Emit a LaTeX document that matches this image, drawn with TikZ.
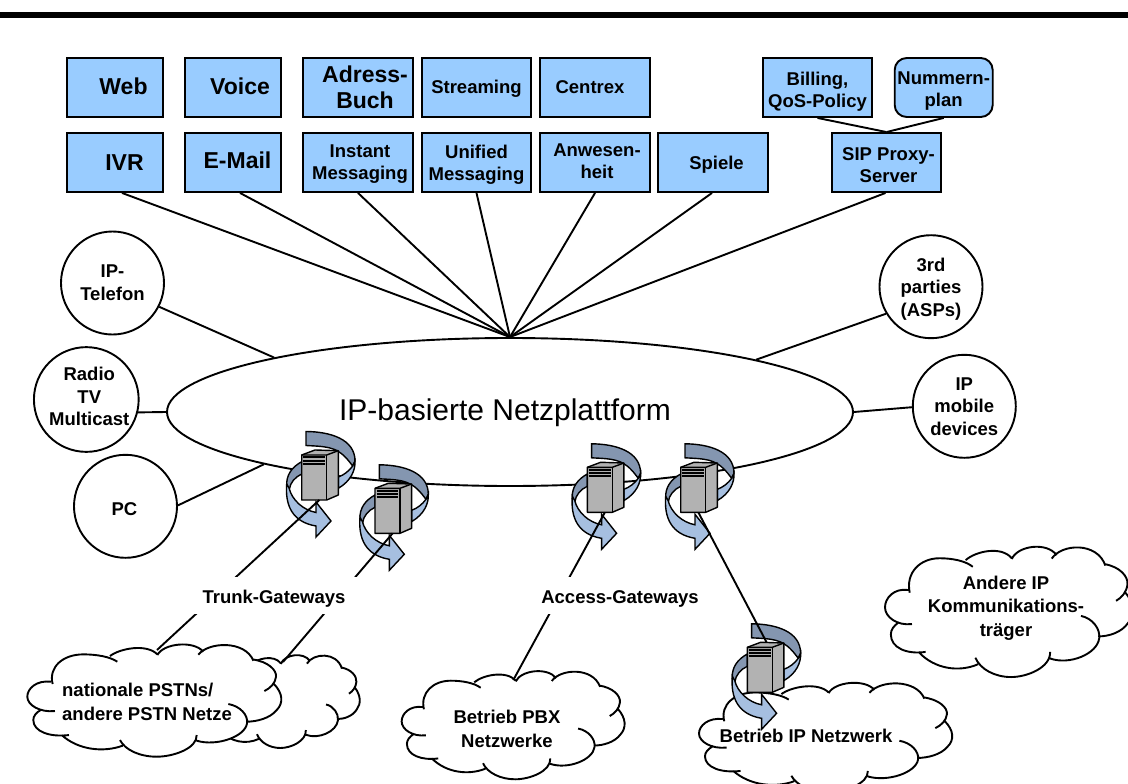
\documentclass[tikz,border=0pt]{standalone}
\usepackage{fontspec}
\setmainfont{Liberation Sans}
\usetikzlibrary{shapes.geometric}

\definecolor{boxblue}{HTML}{99CCFF}
\definecolor{ribbondark}{HTML}{8496B0}
\definecolor{ribbonlight}{HTML}{A6BFE0}
\definecolor{servergrey}{HTML}{B2B2B2}

% text lines moved inside their node, the node keeps its size
\newcommand{\nudged}[3]{\raisebox{#2}[\height][\depth]{\kern#1\begin{tabular}{@{}c@{}}#3\end{tabular}\kern-#1}}

\tikzset{
  netline/.style={line width=1.9pt},
  gwline/.style={line width=1.4pt},
  appbox/.style={draw, netline, fill=boxblue, inner sep=0pt, align=center, minimum height=59pt, font=\bfseries\fontsize{18.5}{22}\selectfont},
  appboxbig/.style={appbox, font=\bfseries\fontsize{23}{26}\selectfont},
  endpoint/.style={draw, netline, circle, fill=white, inner sep=0pt, minimum size=103pt, align=center, font=\bfseries\fontsize{18.5}{22.5}\selectfont},
  cloudtext/.style={inner sep=0pt, align=center, font=\bfseries\fontsize{18.5}{23.5}\selectfont},
  gwlabel/.style={fill=white, inner sep=0pt, minimum height=37pt, font=\bfseries\fontsize{18.5}{22}\selectfont},
  gateway/.pic={
    \filldraw [gwline, fill=ribbondark] (-14,-43.5) .. controls (10,-43.3) and (35,-36) .. (35,-14) -- (32.7,-9) .. controls (28,-15) and (22,-24) .. (10,-27) .. controls (2,-29) and (-6,-29) .. (-14,-29.5) -- cycle;
    \filldraw [gwline, fill=ribbonlight] (35,-14) .. controls (35.5,-5) and (31,6) .. (18.3,13.3) -- (18.3,2) .. controls (24,0) and (29,-4) .. (32.7,-9) -- cycle;
    \filldraw [gwline, fill=ribbondark] (-18.3,-13.3) .. controls (-28,-8) and (-34,0) .. (-33.3,11) -- (-30.7,14.5) .. controls (-30,8) and (-25,2) .. (-18.3,-1) -- cycle;
    \filldraw [gwline, fill=ribbonlight] (-33.3,9) .. controls (-35,30) and (-28,47) .. (-4,51) -- (-4,62) -- (11,46) -- (-4,27) -- (-4,37.5) .. controls (-17,35) and (-28,25) .. (-31,13) -- cycle;
    \filldraw [gwline, fill=servergrey, line join=round] (-18.3,-20) -- (-5,-25) -- (18.3,-24.3) -- (18.3,20) -- (6.7,25) -- (-18.3,25) -- cycle;
    \draw [gwline, line join=round] (-18.3,-20) -- (6.7,-20) -- (18.3,-24.3);
    \draw [gwline] (6.7,-20) -- (6.7,25);
    \foreach \ventY in {-17.7,-14.3,-11} {
      \draw [line width=2pt] (-16.7,\ventY) -- (5,\ventY);
    }
    \coordinate (-bot) at (-0.7,25);
    \coordinate (-top) at (1,-25);
  }
}

% cloud outline, drawn at width 763 and height 330 round (463.5,245)
\def\cloudpuffs{
  (165,273) .. controls (120,278) and (82,255) .. (82,230) .. controls (82,205) and (110,180) .. (153,185)
  (158,192) .. controls (145,140) and (190,103) .. (250,103) .. controls (290,103) and (330,110) .. (352,125)
  (330,108) .. controls (360,85) and (440,70) .. (472,103)
  (472,105) .. controls (490,70) and (580,60) .. (610,95)
  (595,104) .. controls (625,65) and (735,60) .. (760,122)
  (757,118) .. controls (805,125) and (830,150) .. (828,170) .. controls (826,190) and (810,205) .. (793,213)
  (820,190) .. controls (850,220) and (850,250) .. (830,270) .. controls (810,295) and (770,305) .. (738,305)
  (685,252) .. controls (720,258) and (745,285) .. (741,310) .. controls (735,350) and (650,380) .. (590,362)
  (590,345) .. controls (592,385) and (520,410) .. (470,410) .. controls (420,410) and (375,390) .. (360,360)
  (368,377) .. controls (310,398) and (235,390) .. (185,345)
  (207,345) .. controls (150,352) and (100,335) .. (100,300) .. controls (100,288) and (108,278) .. (125,268)
}
\newcommand{\netzcloud}[4]{
  \begin{scope}[shift={(#1,#2)}, xscale=#3/763, yscale=#4/330, shift={(-463.5,-245)}]
    \fill [white] \cloudpuffs
      (153,185) -- (250,103) -- (352,125) -- (472,103) -- (610,95) -- (760,122) -- (828,170) -- (830,270) -- (741,310) -- (590,362) -- (470,410) -- (360,377) -- (185,345) -- (100,300) -- (82,230) -- cycle;
    \draw [netline] \cloudpuffs;
  \end{scope}
}

\begin{document}
\begin{tikzpicture}[x=1pt, y=-1pt]
\useasboundingbox (0,0) rectangle (1128,784);

\draw [line width=6pt] (0,15) coordinate (barl) -- (1128,15) coordinate (barr);

% application boxes
\node [appboxbig, minimum width=96pt] (web) at (115,87.5) {\nudged{8.5pt}{-2pt}{Web}};
\node [appboxbig, minimum width=96pt] (voice) at (233,87.5) {\nudged{7pt}{-2pt}{Voice}};
\node [appboxbig, minimum width=110pt] (adress) at (358,87.5) {\nudged{7pt}{-3pt}{Adress-\\Buch}};
\node [appbox, minimum width=109pt] (streaming) at (476.5,87.5) {\nudged{0pt}{-2pt}{Streaming}};
\node [appbox, minimum width=110pt] (centrex) at (595,87.5) {\nudged{-5pt}{-2pt}{Centrex}};

\node [appboxbig, minimum width=96pt] (ivr) at (115,162.5) {\nudged{9.5pt}{-3pt}{IVR}};
\node [appboxbig, minimum width=96pt] (email) at (233,162.5) {\nudged{4.5pt}{-1pt}{E-Mail}};
\node [appbox, minimum width=110pt] (instant) at (358,162.5) {\nudged{2pt}{-1.5pt}{Instant\\Messaging}};
\node [appbox, minimum width=109pt] (unified) at (476.5,162.5) {\nudged{0pt}{-2.5pt}{Unified\\Messaging}};
\node [appbox, minimum width=110pt] (anwesen) at (595,162.5) {\nudged{2pt}{-1pt}{Anwesen-\\heit}};
\node [appbox, minimum width=110pt] (spiele) at (713,162.5) {\nudged{3.5pt}{-3pt}{Spiele}};

\node [appbox, minimum width=109pt] (billing) at (817.5,87.5) {\nudged{0pt}{-4.5pt}{Billing,\\QoS-Policy}};
\node [appbox, minimum width=98pt, rounded corners=12pt] (nummern) at (943.7,87.5) {\nudged{0pt}{-3.5pt}{Nummern-\\plan}};
\node [appbox, minimum width=109pt] (sip) at (886.5,162.5) {\nudged{2pt}{-4.5pt}{SIP Proxy-\\Server}};

\draw [netline] (billing.south) -- (sip.north);
\draw [netline] (nummern.south) -- (sip.north);

% platform and terminals
\node [draw, netline, ellipse, fill=white, inner sep=0pt, minimum width=686pt, minimum height=148pt] (plattform) at (510,412) {};
\node [inner sep=0pt, font=\fontsize{30}{36}\selectfont] (plattformtext) at (505,413) {IP-basierte Netzplattform};

\foreach \appname/\appshift in {ivr/7,email/7,instant/0,unified/0,anwesen/0,spiele/-1,sip/-1} {
  \draw [netline] ([xshift=\appshift pt]\appname.south) -- (plattform.north);
}

\node [endpoint] (telefon) at (112.5,283) {\nudged{0pt}{-1.5pt}{IP-\\Telefon}};
\node [endpoint] (radio) at (86.3,399.5) {\nudged{3pt}{1pt}{Radio\\TV\\Multicast}};
\node [endpoint] (pc) at (125.5,506.3) {\nudged{-1pt}{-5pt}{PC}};
\node [endpoint] (parties) at (931,286.7) {\nudged{0pt}{-2.5pt}{3rd\\parties\\(ASPs)}};
\node [endpoint] (mobile) at (964.3,406.3) {\nudged{0pt}{-2pt}{IP\\mobile\\devices}};

\draw [netline] (telefon.-27) -- (plattform.167.8);
\draw [netline] (radio.-14) -- (plattform.180);
\draw [netline] (pc.1) -- (plattform.192);
\draw [netline] (parties.211) -- (plattform.12.2);
\draw [netline] (mobile.181) -- (plattform.0);

% clouds
\netzcloud{279}{702.5}{162}{91}
\netzcloud{154.5}{701.7}{254.4}{110}
\netzcloud{513.3}{726.3}{223.3}{106}
\netzcloud{825.8}{738.5}{253.6}{107}
\netzcloud{1009}{613.2}{248}{127.7}

\node [cloudtext, align=left] (pstn) at (147,702) {nationale PSTNs/\\andere PSTN Netze};
\node [cloudtext] (pbx) at (507,729) {Betrieb PBX\\Netzwerke};
\node [cloudtext] (ipnetz) at (806,736) {Betrieb IP Netzwerk};
\node [cloudtext] (andere) at (1006,608) {Andere IP\\Kommunikations-\\träger};

\coordinate (pstnfront) at (157,650);
\coordinate (pstnback) at (283,662);
\coordinate (pbxtop) at (513.3,680);

% gateways
\pic (gwa) at (320,475) {gateway};
\pic (gwb) at (393.3,508.3) {gateway};
\pic (gwc) at (605.6,487.3) {gateway};
\pic (gwd) at (699,487.3) {gateway};
\pic (gwe) at (765.6,667.3) {gateway};

\draw [netline] (pstnfront) -- (gwa-bot);
\draw [netline] (pstnback) -- (gwb-bot);
\draw [netline] (pbxtop) -- (gwc-bot);
\draw [netline] (gwd-bot) -- (gwe-top);

\node [gwlabel, minimum width=170pt] (trunk) at (274,595.5) {\nudged{0pt}{-4pt}{Trunk-Gateways}};
\node [gwlabel, minimum width=186pt] (access) at (620,595.5) {\nudged{0pt}{-4pt}{Access-Gateways}};

\end{tikzpicture}
\end{document}
